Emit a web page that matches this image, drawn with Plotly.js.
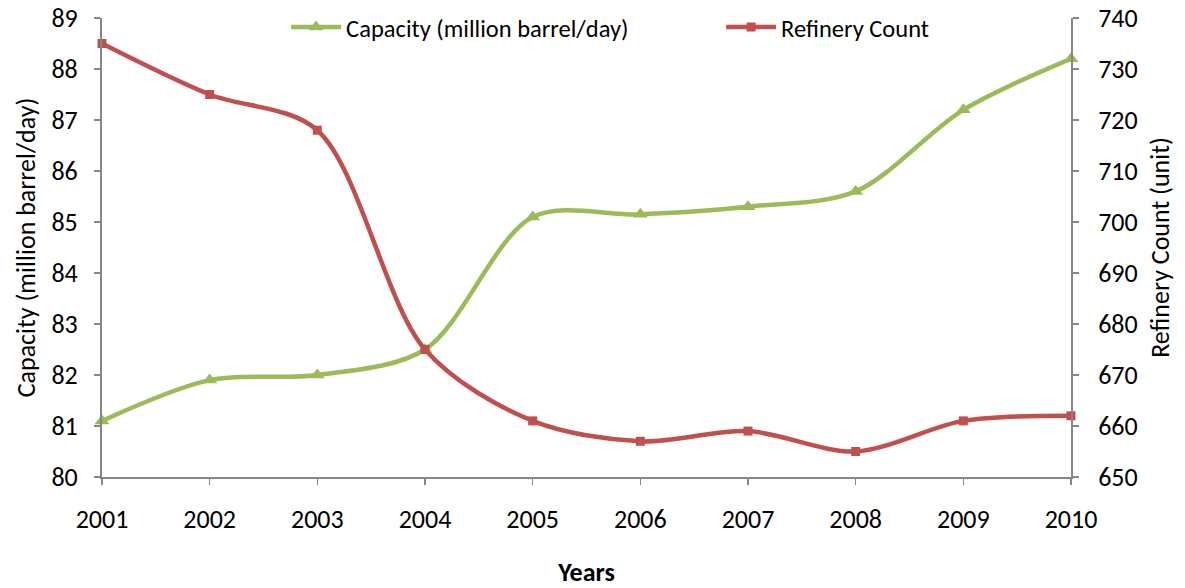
<!DOCTYPE html>
<html><head><meta charset="utf-8">
<script src="https://cdn.plot.ly/plotly-3.0.1.min.js"></script>
<style>html,body{margin:0;padding:0;background:#fff}#chart{width:1185px;height:588px}</style>
</head><body><div id="chart"></div>
<script>
var years = [2001, 2002, 2003, 2004, 2005, 2006, 2007, 2008, 2009, 2010];
var capacity = [81.1, 81.9, 82.0, 82.5, 85.1, 85.15, 85.3, 85.6, 87.2, 88.2];
var refineryCount = [735, 725, 718, 675, 661, 657, 659, 655, 661, 662];
var leftTicks = [80, 81, 82, 83, 84, 85, 86, 87, 88, 89];
var rightTicks = [650, 660, 670, 680, 690, 700, 710, 720, 730, 740];

var FONT = 'Calibri, Carlito, Lato, "Liberation Sans", sans-serif';
var axisColor = '#868686';
var FS = 26;

var traces = [
  {x: years, y: capacity, name: 'Capacity (million barrel/day)', type: 'scatter', mode: 'lines+markers',
   line: {color: '#9BBB59', width: 4.5, shape: 'spline', smoothing: 0.9},
   marker: {symbol: 'triangle-up', size: 13, color: '#9BBB59'}, yaxis: 'y', cliponaxis: false},
  {x: years, y: refineryCount, name: 'Refinery Count', type: 'scatter', mode: 'lines+markers',
   line: {color: '#C0504D', width: 4.5, shape: 'spline', smoothing: 0.9},
   marker: {symbol: 'square', size: 9, color: '#C0504D'}, yaxis: 'y2', cliponaxis: false}
];

var layout = {
  width: 1185, height: 588,
  margin: {l: 102, r: 114, t: 18, b: 111, autoexpand: false},
  paper_bgcolor: '#fff', plot_bgcolor: '#fff',
  font: {family: FONT, size: FS, color: '#000'},
  showlegend: true,
  legend: {orientation: 'h', x: 0.19, xanchor: 'left', y: 0.98, yanchor: 'middle',
           font: {family: FONT, size: 24.5}, bgcolor: 'rgba(0,0,0,0)',
           itemwidth: 50, entrywidth: 370, entrywidthmode: 'pixels', tracegroupgap: 0},
  xaxis: {
    range: [2001, 2010], tickvals: years, ticktext: years.map(String),
    showgrid: false, zeroline: false, showline: true, linecolor: axisColor, linewidth: 2,
    ticks: 'outside', ticklen: 6, tickcolor: axisColor, tickwidth: 1.5,
    tickfont: {family: FONT, size: FS}, ticklabelstandoff: 12,
    title: {text: '<b>Years</b>', font: {family: FONT, size: FS}, standoff: 30}
  },
  yaxis: {
    range: [80, 89], tickvals: leftTicks,
    showgrid: false, zeroline: false, showline: true, linecolor: axisColor, linewidth: 2,
    ticks: 'outside', ticklen: 6, tickcolor: axisColor, tickwidth: 1.5,
    tickfont: {family: FONT, size: FS}, ticklabelstandoff: 11,
    title: {text: 'Capacity (million barrel/day)', font: {family: FONT, size: FS}, standoff: 8}
  },
  yaxis2: {
    range: [650, 740], tickvals: rightTicks, overlaying: 'y', side: 'right',
    showgrid: false, zeroline: false, showline: true, linecolor: axisColor, linewidth: 2,
    ticks: 'outside', ticklen: 6, tickcolor: axisColor, tickwidth: 1.5,
    tickfont: {family: FONT, size: FS}, ticklabelstandoff: 14,
    title: {text: 'Refinery Count (unit)', font: {family: FONT, size: FS}, standoff: 14}
  }
};

Plotly.newPlot('chart', traces, layout, {displayModeBar: false, staticPlot: true});
</script></body></html>
